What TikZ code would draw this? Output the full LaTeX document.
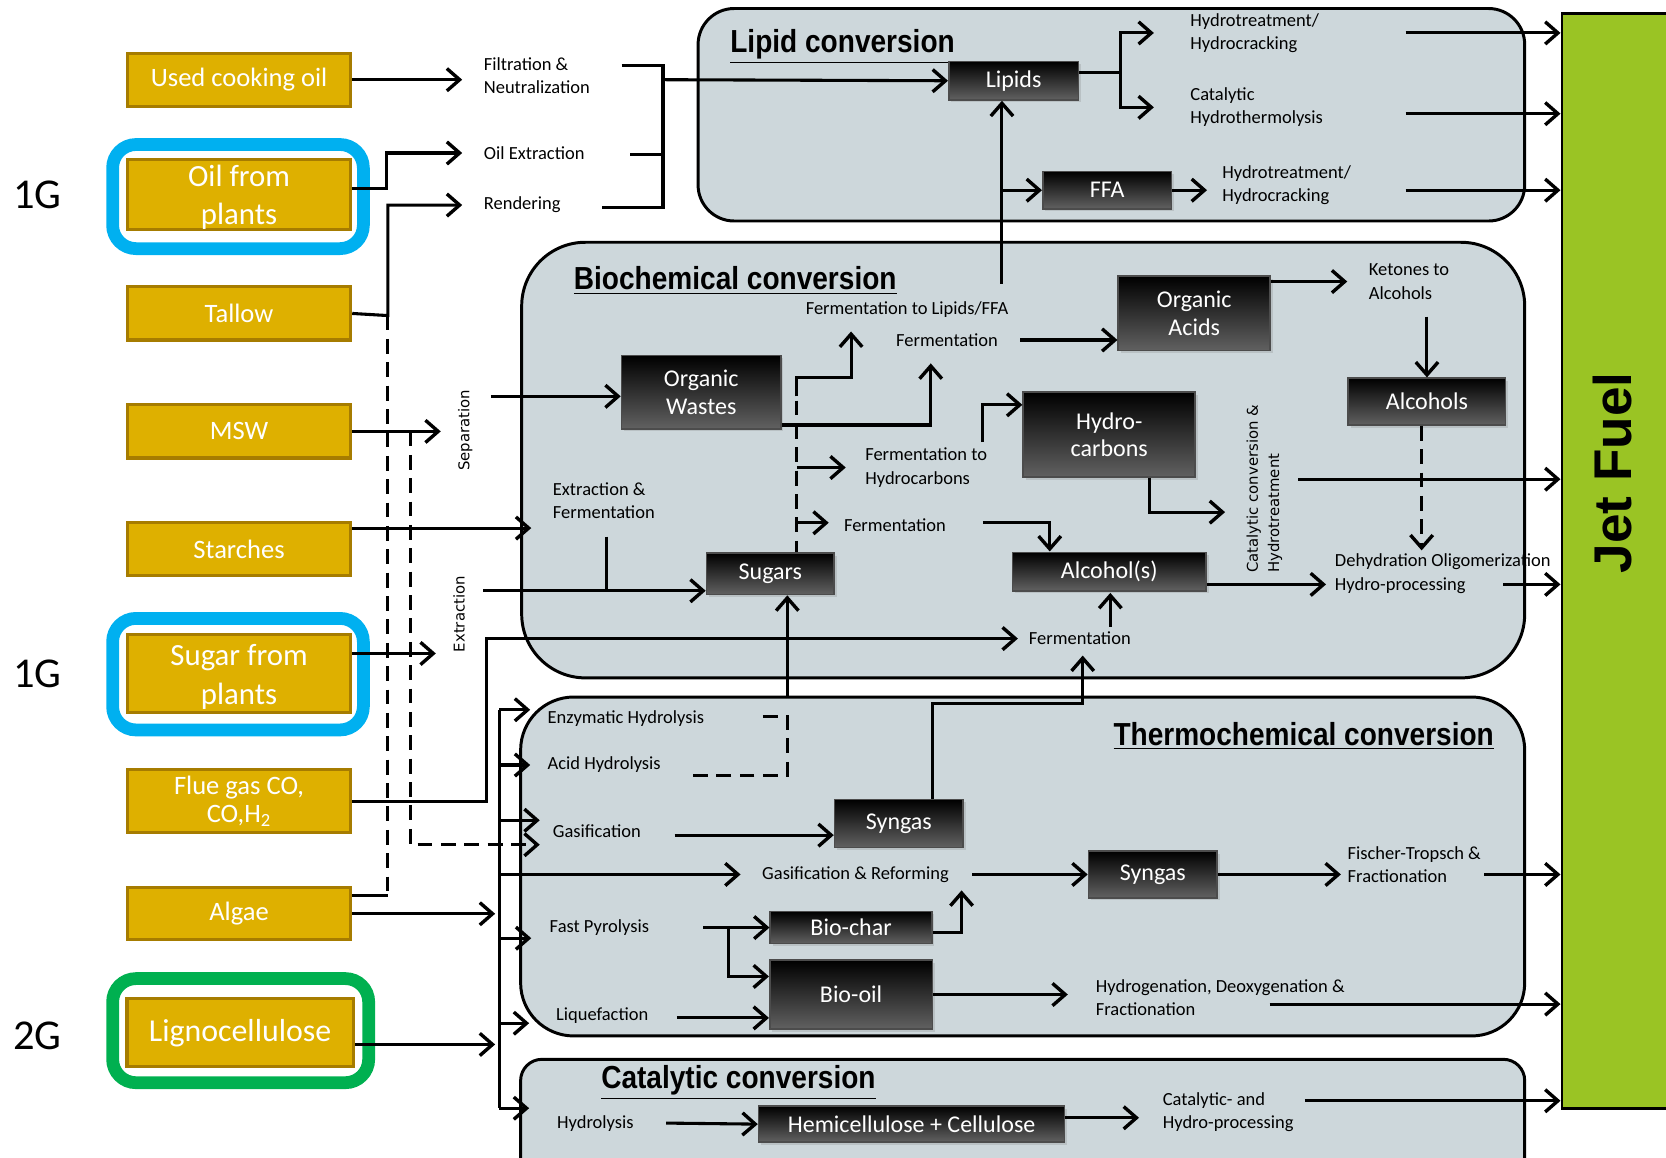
\documentclass[tikz,border=0pt]{standalone}
\usepackage{fontspec}
\setmainfont{Carlito}
\newfontfamily\headfont[FakeStretch=0.88]{Liberation Sans}
\newfontfamily\rotfont{DejaVu Sans}
\newfontfamily\jetfont{Liberation Sans}
\usetikzlibrary{arrows.meta, positioning, shadows}

\definecolor{goldfill}{RGB}{222,176,0}
\definecolor{goldline}{RGB}{166,124,0}
\definecolor{panelfill}{RGB}{205,215,219}
\definecolor{frameblue}{RGB}{0,176,240}
\definecolor{framegreen}{RGB}{0,176,80}
\definecolor{jetgreen}{RGB}{154,196,36}

\tikzset{
  source/.style={draw=goldline, line width=1.5pt, fill=goldfill, text=white, minimum width=105pt, minimum height=25pt, align=center, font=\fontsize{12.5}{14}\selectfont, inner sep=0pt},
  proc/.style={draw=black!70, line width=0.8pt, top color=black, bottom color=black!62, text=white, align=center, font=\fontsize{11.3}{13}\selectfont, inner sep=0pt, drop shadow={opacity=0.25, shadow xshift=1.2pt, shadow yshift=-1.2pt}},
  panel/.style={draw=black, line width=1.4pt, fill=panelfill},
  frame/.style={line width=6pt, rounded corners=11pt},
  lbl/.style={anchor=west, align=left, font=\fontsize{8.7}{11}\selectfont, inner sep=0pt},
  vlbl/.style={rotate=90, align=left, font=\rotfont\fontsize{7}{10}\selectfont, inner sep=0pt},
  paneltitle/.style={font=\headfont\bfseries\fontsize{15}{18}\selectfont, inner sep=1pt},
  genlbl/.style={font=\fontsize{20}{24}\selectfont},
  ln/.style={line width=1.45pt},
  arr/.style={line width=1.45pt, -{Straight Barb[length=6pt, width=10.5pt, line width=1.6pt]}},
  dashln/.style={line width=1.45pt, dash pattern=on 7pt off 4pt},
}

\begin{document}
\begin{tikzpicture}[x=0.5pt, y=-0.5pt]
\useasboundingbox (0,0) rectangle (1568,1089);

% Conversion panels
\draw[panel, rounded corners=17pt] (657,8) rectangle (1435,208);
\draw[panel, rounded corners=30pt] (491,228) rectangle (1435,638);
\draw[panel, rounded corners=25pt] (490,656) rectangle (1435,975);
\draw[panel, rounded corners=10pt] (490,997) rectangle (1435,1110);
\node[paneltitle] (lipt) at (793,44) {\underline{Lipid conversion}};
\node[paneltitle] (biot) at (692,264) {\underline{Biochemical conversion}};
\node[paneltitle] (thermt) at (1227,693) {\underline{Thermochemical conversion}};
\node[paneltitle] (catt) at (695,1019) {\underline{Catalytic conversion}};

% Jet fuel
\node[draw, line width=1.3pt, fill=jetgreen, minimum width=52.5pt, minimum height=515pt, inner sep=0pt] (jet) at (1522.5,528) {};
\node[rotate=90, font=\jetfont\bfseries\fontsize{25}{30}\selectfont] (jettxt) at (1518,445) {Jet Fuel};

% Generation frames
\draw[frame, frameblue] (106,136) rectangle (342,234);
\draw[frame, frameblue] (106,582) rectangle (342,687);
\draw[frame, framegreen] (106,921) rectangle (347,1019);
\node[genlbl] (g1a) at (35,183) {1G};
\node[genlbl] (g1b) at (35,634) {1G};
\node[genlbl] (g2) at (35,975) {2G};

% Feedstocks
\node[source] (uco) at (225,75) {Used cooking oil};
\node[source, minimum height=32.5pt, font=\fontsize{14.5}{18}\selectfont] (oilplant) at (225,183) {\strut Oil from\\plants};
\node[source] (tallow) at (225,295) {Tallow};
\node[source] (msw) at (225,406) {MSW};
\node[source] (starch) at (225,517) {Starches};
\node[source, minimum height=36.5pt, font=\fontsize{14.5}{18.5}\selectfont] (sugarplant) at (225,634) {\strut Sugar from\\plants};
\node[source, minimum height=29.5pt, font=\fontsize{12.5}{13.5}\selectfont] (flue) at (225,754) {Flue gas CO,\\CO,H\textsubscript{2}};
\node[source, minimum height=24.5pt] (algae) at (225,860) {Algae};
\node[source, minimum width=106.5pt, minimum height=32pt, font=\fontsize{15}{18}\selectfont] (ligno) at (226,972) {Lignocellulose};

% Pretreatment labels
\node[lbl] (filt) at (455,71) {Filtration \&\\Neutralization};
\node[lbl] (oilex) at (455,144) {Oil Extraction};
\node[lbl] (rend) at (455,193) {Rendering};
\node[vlbl] (sep) at (438,405) {Separation};
\node[vlbl] (extr) at (432,578) {Extraction};

% Lipid conversion
\node[proc, minimum width=61pt, minimum height=18pt] (lipids) at (954,76) {Lipids};
\node[proc, minimum width=60.5pt, minimum height=17.5pt] (ffa) at (1042,179) {FFA};
\node[lbl] (ht1) at (1120,31) {Hydrotreatment/\\Hydrocracking};
\node[lbl] (cht) at (1120,101) {Catalytic\\Hydrothermolysis};
\node[lbl] (ht2) at (1150,174) {Hydrotreatment/\\Hydrocracking};

% Biochemical conversion
\node[proc, minimum width=75pt, minimum height=34.5pt] (orgw) at (660,369) {Organic\\Wastes};
\node[proc, minimum width=71.5pt, minimum height=35pt] (orga) at (1124,295) {Organic\\Acids};
\node[proc, minimum width=81pt, minimum height=40pt] (hydc) at (1044,409) {Hydro-\\carbons};
\node[proc, minimum width=74pt, minimum height=22pt] (alcs) at (1343,378) {Alcohols};
\node[proc, minimum width=60pt, minimum height=19.5pt] (sugars) at (725,540) {Sugars};
\node[proc, minimum width=91pt, minimum height=18pt] (alc) at (1044,538) {Alcohol(s)};
\node[lbl] (exfe) at (520,471) {Extraction \&\\Fermentation};
\node[lbl] (fl) at (758,291) {Fermentation to Lipids/FFA};
\node[lbl] (fo) at (843,320) {Fermentation};
\node[lbl] (fh) at (814,440) {Fermentation to\\Hydrocarbons};
\node[lbl] (fs) at (794,494) {Fermentation};
\node[lbl] (ket) at (1288,265) {Ketones to\\Alcohols};
\node[vlbl] (cch) at (1190,460) {Catalytic conversion \&\\Hydrotreatment};
\node[lbl] (dehy) at (1256,540) {Dehydration Oligomerization\\Hydro-processing};
\node[lbl] (fa) at (968,601) {Fermentation};

% Thermochemical conversion
\node[proc, minimum width=60.5pt, minimum height=22.5pt] (syn1) at (846,775) {Syngas};
\node[proc, minimum width=60.5pt, minimum height=22pt] (syn2) at (1085,823) {Syngas};
\node[proc, minimum width=76pt, minimum height=15pt] (biochar) at (801,873) {Bio-char};
\node[proc, minimum width=76.5pt, minimum height=32.5pt] (biooil) at (801,936) {Bio-oil};
\node[lbl] (enz) at (515,676) {Enzymatic Hydrolysis};
\node[lbl] (acid) at (515,720) {Acid Hydrolysis};
\node[lbl] (gas) at (520,782) {Gasification};
\node[lbl] (gasref) at (717,823) {Gasification \& Reforming};
\node[lbl] (fastp) at (517,873) {Fast Pyrolysis};
\node[lbl] (liq) at (523,956) {Liquefaction};
\node[lbl] (ft) at (1268,814) {Fischer-Tropsch \&\\Fractionation};
\node[lbl] (hdo) at (1031,939) {Hydrogenation, Deoxygenation \&\\Fractionation};

% Catalytic conversion
\node[lbl] (hyd) at (524,1057) {Hydrolysis};
\node[proc, minimum width=144pt, minimum height=17pt] (hemi) at (858,1058) {Hemicellulose + Cellulose};
\node[lbl] (cat) at (1094,1047) {Catalytic- and\\Hydro-processing};

% Junction and free end points
\coordinate (tj) at (365,297);
\coordinate (aj) at (365,843);
\coordinate (mj) at (386,406);
\coordinate (col) at (624,75);
\coordinate (cf1) at (585,62);
\coordinate (cf2) at (593,145);
\coordinate (cf3) at (567,195);
\coordinate (lsplit) at (1055,68);
\coordinate (lipup) at (943,267);
\coordinate (s1) at (462,373);
\coordinate (s2) at (455,556);
\coordinate (ej) at (571,505);
\coordinate (fj) at (458,754);
\coordinate (fo1) at (960,320);
\coordinate (dtop) at (750,355);
\coordinate (btop) at (470,668);
\coordinate (bbot) at (470,1043);
\coordinate (hs) at (741,657);

% Feedstocks to pretreatment
\draw[arr, shorten >=10pt] (uco.east) -- (uco.east -| filt.west);
\draw[arr, shorten >=10pt] ([yshift=3pt]oilplant.east) -- ++(32,0) |- (oilex.west);
\draw[arr, shorten >=10pt] (tallow.east) -- (tj) |- (rend.west);
\draw[dashln] (tj) -- (aj);
\draw[ln] (aj) -- (aj -| algae.east);
\draw[arr, shorten >=8pt] (msw.east) -- (msw.east -| sep.north);
\draw[dashln, -{Straight Barb[length=6pt, width=10.5pt, line width=1.6pt]}] (mj) |- (508,795);
\draw[arr, shorten >=10pt] ([yshift=10pt]starch.east) -- ([yshift=10pt]starch.east -| exfe.west);
\draw[arr, shorten >=8pt] ([yshift=9.5pt]sugarplant.east) -- ([yshift=9.5pt]sugarplant.east -| extr.north);
\draw[arr, shorten >=5pt] (flue.east) -- (fj) |- (fa.west);

% Into lipid conversion
\draw[ln] (cf1) -| (col) |- (cf3);
\draw[ln] (cf2) -- (cf2 -| col);
\draw[ln] (col) -- (col |- cf3);
\draw[arr] (col) -- (lipids.west);
\draw[ln] (lipids.east |- lsplit) -- (lsplit);
\draw[arr, shorten >=17pt] (lsplit) |- (ht1.west);
\draw[arr, shorten >=17pt] (lsplit) |- (cht.west);
\draw[arr] (lipup) -- (lipup |- lipids.south);
\draw[arr] (lipup |- ffa.west) -- (ffa.west);
\draw[arr, shorten >=7pt] (ffa.east) -- (ffa.east -| ht2.west);

% Biochemical routes
\draw[arr] (s1) -- (s1 -| orgw.west);
\draw[ln] (ej) -- (ej |- s2);
\draw[arr] (s2) -- (s2 -| sugars.west);
\draw[dashln] (dtop) -- (dtop |- sugars.north);
\draw[arr] (750,373) |- (801,355) -- (801,312);
\draw[arr] ([yshift=-15.5pt]orgw.east) -| (876,342);
\draw[arr, shorten >=9pt] (dtop |- fh.west) -- (fh.west);
\draw[arr, shorten >=7pt] (750,492) -- (fs.west |- 0,492);
\draw[arr] (fo1) -- (fo1 -| orga.west);
\draw[arr] (925,416) |- ([yshift=14pt]hydc.west);
\draw[arr] (925,492) -| (988,519);
\draw[arr, shorten >=10pt] ([yshift=15pt]orga.east) -- ([yshift=15pt]orga.east -| ket.west);
\draw[arr] (1343,298) -- (alcs.north);
\draw[dashln, -{Straight Barb[length=6pt, width=10.5pt, line width=1.6pt]}] ([xshift=-2.5pt]alcs.south) -- (1338,518);
\draw[arr] ([xshift=19pt]hydc.south) |- (1153,482);
\draw[arr, shorten >=4pt] ([yshift=-6pt]alc.east) -- ([yshift=-6pt]alc.east -| dehy.west);
\draw[arr] (1045,590) -- (1045,558);
\draw[arr] (hs) -- (hs |- sugars.south);
\draw[dashln] (718,674) -| (741,730) -- (650,730);
\draw[arr] ([xshift=16pt]syn1.north) |- (1019,662) -- (1019,617);

% Thermochemical routes
\draw[ln] (btop) -- (bbot);
\draw[arr, shorten >=8pt] (btop) -- (btop -| enz.west);
\draw[arr, shorten >=8pt] (btop |- acid.west) -- (acid.west);
\draw[arr] (470,772) -- (508,772);
\draw[arr, shorten >=10pt] (470,823) -- (gasref.west);
\draw[arr] (470,883) -- (500,883);
\draw[arr] (470,963) -- (498,963);
\draw[arr] (bbot) -- (498,1043);
\draw[arr, shorten >=2pt] (algae.east) -- (algae.east -| btop);
\draw[arr, shorten >=2pt] ([yshift=-5.5pt]ligno.east) -- ([yshift=-5.5pt]ligno.east -| btop);
\draw[arr] (635,786) -- ([yshift=-5.5pt]syn1.west);
\draw[arr] (915,823) -- (syn2.west);
\draw[arr, shorten >=3pt] (syn2.east) -- (syn2.east -| ft.west);
\draw[arr] (662,873) -- (biochar.west);
\draw[arr] (686,873) |- ([yshift=8.5pt]biooil.west);
\draw[arr] ([yshift=-2.5pt]biochar.east) -| (905,838);
\draw[arr] (637,958) -- ([yshift=-11pt]biooil.west);
\draw[arr, shorten >=13pt] (biooil.east) -- (biooil.east -| hdo.west);

% Catalytic route
\draw[arr] (627,1057) -- (hemi.west);
\draw[arr] ([yshift=3pt]hemi.east) -- (1072,1052);

% Products to jet fuel
\foreach \yy/\xx in {31/1323, 107/1323, 179/1323, 451/1222, 550/1415, 823/1397, 945/1195, 1036/1228}
  \draw[arr] (\xx,\yy) -- (jet.west |- \xx,\yy);
\end{tikzpicture}
\end{document}
